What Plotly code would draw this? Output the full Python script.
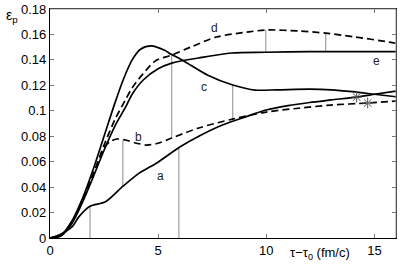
import plotly.graph_objects as go

# ---- data ----
a_t = [0, 0.42, 1.03, 1.34, 1.85, 2.57, 3.39, 4.11, 4.96, 6.0, 6.88, 8.0, 9.0, 10.0, 11.0, 12.0, 13.0, 14.18, 15.0, 16.0]
a_v = [0, 0.0024, 0.0089, 0.0168, 0.0250, 0.0285, 0.0409, 0.0508, 0.0592, 0.0715, 0.0800, 0.0890, 0.0950, 0.1006, 0.1040, 0.1065, 0.1085, 0.1108, 0.1130, 0.1155]

b_t = [0, 0.5, 1.0, 1.5, 2.0, 2.5, 2.8, 3.1, 3.5, 4.0, 4.45, 5.0, 5.63, 6.88, 8.45, 10.0, 11.5, 13.0, 14.69, 16.0]
b_v = [0, 0.0018, 0.012, 0.030, 0.050, 0.071, 0.076, 0.0778, 0.077, 0.0745, 0.073, 0.0745, 0.0786, 0.0865, 0.0935, 0.099, 0.102, 0.1045, 0.1061, 0.1077]

c_t = [0, 0.5, 1.0, 1.5, 2.0, 2.5, 3.0, 3.4, 3.8, 4.2, 4.7, 5.3, 5.6, 6.2, 7.3, 8.45, 9.5, 10.5, 12.0, 13.0, 14.0, 15.0, 16.0]
c_v = [0, 0.002, 0.013, 0.031, 0.054, 0.080, 0.106, 0.125, 0.140, 0.1485, 0.151, 0.1475, 0.1445, 0.139, 0.128, 0.1203, 0.1163, 0.1165, 0.117, 0.1165, 0.115, 0.113, 0.111]

d_t = [0, 0.5, 1.0, 1.5, 2.0, 2.5, 3.0, 3.5, 3.8, 4.3, 4.9, 5.63, 6.5, 7.7, 9.2, 9.98, 11.5, 12.75, 14.1, 15.7, 16.0]
d_v = [0, 0.0018, 0.012, 0.030, 0.050, 0.073, 0.093, 0.109, 0.118, 0.129, 0.1395, 0.1438, 0.150, 0.158, 0.162, 0.1635, 0.1627, 0.161, 0.158, 0.154, 0.153]

e_t = [0, 0.5, 1.0, 1.5, 2.0, 2.5, 3.0, 3.5, 3.8, 4.3, 5.0, 5.63, 6.88, 8.4, 9.98, 12.0, 14.0, 16.0]
e_v = [0, 0.0016, 0.011, 0.028, 0.048, 0.069, 0.088, 0.103, 0.113, 0.124, 0.133, 0.1375, 0.1415, 0.1454, 0.146, 0.1465, 0.1465, 0.1465]

# thin grey connectors
vl_t = [1.85, 3.37, 5.63, 5.96, 8.45, 9.98, 12.75]
vl_lo = [0, 0.0409, 0.0786, 0, 0.0935, 0.146, 0.146]
vl_hi = [0.0250, 0.077, 0.1438, 0.0715, 0.1203, 0.1635, 0.161]

# star markers
star_t = [14.18, 14.69]
star_v = [0.1108, 0.1061]

# curve labels
lab_txt = ["a", "b", "c", "d", "e"]
lab_t = [5.13, 4.11, 7.11, 7.62, 15.1]
lab_v = [0.0487, 0.0794, 0.1187, 0.1649, 0.139]

y_ticks = [0, 0.02, 0.04, 0.06, 0.08, 0.1, 0.12, 0.14, 0.16, 0.18]
x_ticks = [0, 5, 10, 15]

FONT = "Liberation Sans, Arial, sans-serif"
W, H = 400, 267
ML, MR, MT, MB = 50, 4, 9, 29
PW, PH = W - ML - MR, H - MT - MB

fig = go.Figure()

for t, lo, hi in zip(vl_t, vl_lo, vl_hi):
    fig.add_trace(go.Scatter(x=[t, t], y=[lo, hi], mode="lines",
                             line=dict(color="#8c8c8c", width=1), showlegend=False, hoverinfo="skip"))

for xs, ys, dash in [(a_t, a_v, "solid"), (b_t, b_v, "7px,4px"), (c_t, c_v, "solid"),
                     (d_t, d_v, "7px,4px"), (e_t, e_v, "solid")]:
    fig.add_trace(go.Scatter(x=xs, y=ys, mode="lines",
                             line=dict(color="black", width=1.7, dash=dash, shape="spline", smoothing=0.8),
                             showlegend=False))

fig.add_trace(go.Scatter(x=star_t, y=star_v, mode="markers",
                         marker=dict(symbol="asterisk-open", size=9, color="#555555",
                                     line=dict(color="#555555", width=1)),
                         showlegend=False))

for s, t, v in zip(lab_txt, lab_t, lab_v):
    fig.add_annotation(x=t, y=v, text=s, showarrow=False,
                       font=dict(family=FONT, size=12, color="#222"))

# axis titles placed in pixel terms converted to paper coords
fig.add_annotation(xref="paper", yref="paper", x=(12 - ML) / PW, y=(H - MB - 16) / PH,
                   xanchor="center", yanchor="middle",
                   text="ε<sub>p</sub>", showarrow=False, font=dict(family=FONT, size=14, color="black"))
fig.add_annotation(xref="paper", yref="paper", x=(320 - ML) / PW, y=(H - MB - 253) / PH,
                   xanchor="center", yanchor="middle",
                   text="τ−τ<sub>0</sub> (fm/c)", showarrow=False, font=dict(family=FONT, size=13, color="black"))

# grey top/right frame
fig.add_shape(type="line", xref="paper", yref="paper", x0=0, x1=1, y0=1, y1=1, line=dict(color="#999", width=1))
fig.add_shape(type="line", xref="paper", yref="paper", x0=1, x1=1, y0=0, y1=1, line=dict(color="#999", width=1))

fig.update_xaxes(range=[0, 16], tickvals=x_ticks, ticks="inside", ticklen=4, tickcolor="#777",
                 showline=True, linecolor="black", linewidth=1.2, showgrid=False, zeroline=False,
                 tickfont=dict(family=FONT, size=13, color="black"), mirror="ticks", automargin=False)
fig.update_yaxes(range=[0, 0.18], tickvals=y_ticks, ticks="inside", ticklen=4, tickcolor="#777",
                 showline=True, linecolor="black", linewidth=1.2, showgrid=False, zeroline=False,
                 tickfont=dict(family=FONT, size=13, color="black"), mirror="ticks", automargin=False)

fig.update_layout(width=W, height=H, margin=dict(l=ML, r=MR, t=MT, b=MB, autoexpand=False),
                  plot_bgcolor="white", paper_bgcolor="white")

fig.write_html("out.html", config={"displayModeBar": False},
               post_script="document.body.style.margin='0';document.body.style.overflow='hidden';")
